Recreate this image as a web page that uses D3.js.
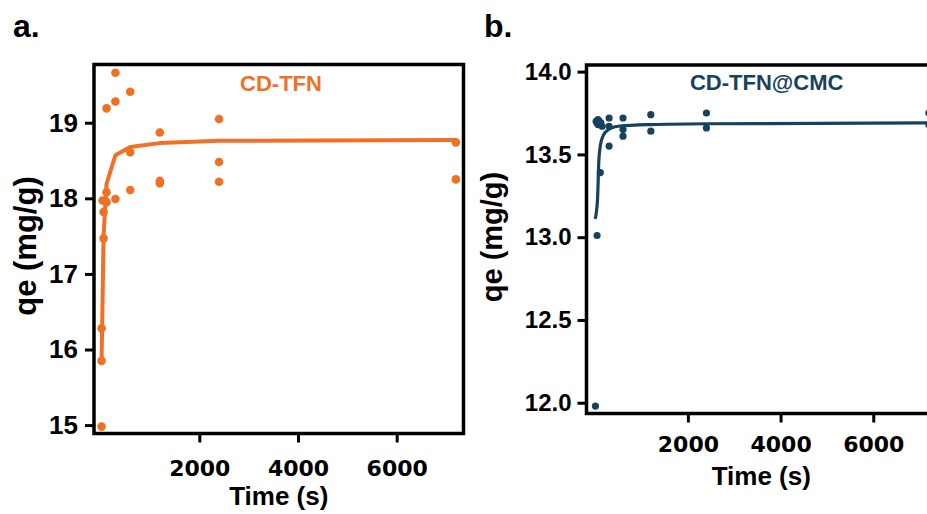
<!DOCTYPE html>
<html>
<head>
<meta charset="utf-8">
<script src="https://cdn.jsdelivr.net/npm/d3@7"></script>
<style>
  html, body { margin: 0; padding: 0; background: #fff; }
  svg { display: block; }
  text { font-family: "Liberation Sans", Arial, sans-serif; font-weight: bold; }
</style>
</head>
<body>
<svg id="chart" width="927" height="514"></svg>
<script>
// ---------- Data ----------
// Panel a: CD-TFN
const aTimes  = [20, 20, 20, 40, 60, 60, 120, 120, 120, 300, 300, 300, 600, 600, 600, 1200, 1200, 1200, 2400, 2400, 2400, 7200, 7200];
const aValues = [14.98, 15.85, 16.28, 17.97, 17.47, 17.82, 17.95, 18.08, 19.19, 17.99, 19.28, 19.66, 18.11, 18.61, 19.41, 18.20, 18.23, 18.87, 18.22, 18.48, 19.05, 18.25, 18.74];
const aFitTimes  = [20, 60, 120, 300, 600, 1200, 2400, 7200];
const aFitValues = [15.85, 17.50, 18.19, 18.57, 18.68, 18.73, 18.76, 18.77];
const aYTicks = [15, 16, 17, 18, 19];

// Panel b: CD-TFN@CMC
const bTimes  = [5, 40, 110, 20, 40, 60, 60, 90, 120, 150, 300, 300, 300, 600, 600, 600, 1200, 1200, 2400, 2400, 7200, 7200];
const bValues = [11.98, 13.01, 13.39, 13.70, 13.69, 13.71, 13.68, 13.70, 13.69, 13.67, 13.72, 13.67, 13.55, 13.72, 13.65, 13.61, 13.74, 13.64, 13.75, 13.66, 13.75, 13.68];
const bFitTimes  = [0, 50, 80, 130, 240, 500, 1200, 2400, 7200];
const bFitValues = [13.11, 13.23, 13.47, 13.58, 13.64, 13.67, 13.68, 13.685, 13.69];
const bYTicks = [12.0, 12.5, 13.0, 13.5, 14.0];

const xTicks = [2000, 4000, 6000];
const panelLetters = ["a.", "b."];
const panelTitles = ["CD-TFN", "CD-TFN@CMC"];
const xTitle = "Time (s)";
const yTitle = "qe (mg/g)";

// ---------- Drawing ----------
const svg = d3.select("#chart");

function drawPanel(cfg) {
  const g = svg.append("g");
  const x = d3.scaleLinear().domain(cfg.xDomain).range([cfg.left, cfg.right]);
  const y = d3.scaleLinear().domain(cfg.yDomain).range([cfg.bottom, cfg.top]);

  // fit line
  g.append("path")
    .datum(cfg.fitT.map((t, i) => [t, cfg.fitV[i]]))
    .attr("fill", "none")
    .attr("stroke", cfg.color)
    .attr("stroke-width", cfg.lineW)
    .attr("stroke-linejoin", "round")
    .attr("d", d3.line().x(d => x(d[0])).y(d => y(d[1])).curve(cfg.curve));

  // points
  g.selectAll("circle.pt")
    .data(cfg.t.map((t, i) => [t, cfg.v[i]]))
    .join("circle")
    .attr("class", "pt")
    .attr("cx", d => x(d[0]))
    .attr("cy", d => y(d[1]))
    .attr("r", cfg.r)
    .attr("fill", cfg.color);

  // frame
  g.append("rect")
    .attr("x", cfg.left).attr("y", cfg.top)
    .attr("width", cfg.right - cfg.left).attr("height", cfg.bottom - cfg.top)
    .attr("fill", "none").attr("stroke", "#000").attr("stroke-width", 3.5);

  // y axis
  const ya = g.append("g").attr("transform", `translate(${cfg.left},0)`)
    .call(d3.axisLeft(y).tickValues(cfg.yTicks).tickSize(9).tickPadding(cfg.yPad)
      .tickFormat(cfg.yFmt));
  ya.select(".domain").remove();
  ya.selectAll(".tick line").attr("stroke", "#000").attr("stroke-width", 3);
  ya.selectAll(".tick text").attr("fill", "#000")
    .style("font-size", cfg.yTickSize + "px")
    .style("font-family", '"Liberation Sans", Arial, sans-serif').style("font-weight", "bold");

  // x axis
  const xa = g.append("g").attr("transform", `translate(0,${cfg.bottom})`)
    .call(d3.axisBottom(x).tickValues(xTicks).tickSize(9).tickPadding(cfg.xPad)
      .tickFormat(d3.format("d")));
  xa.select(".domain").remove();
  xa.selectAll(".tick line").attr("stroke", "#000").attr("stroke-width", 3);
  xa.selectAll(".tick text").attr("fill", "#000")
    .style("font-size", "22px")
    .style("font-family", '"DejaVu Sans", sans-serif').style("font-weight", "bold");

  // x title
  g.append("text")
    .attr("x", (cfg.left + cfg.right) / 2).attr("y", cfg.xTitleY)
    .attr("text-anchor", "middle").style("font-size", cfg.xTitleSize + "px")
    .attr("fill", "#000").text(xTitle);

  // y title
  g.append("text")
    .attr("transform", `translate(${cfg.yTitleX},${cfg.yTitleCY}) rotate(-90)`)
    .attr("text-anchor", "middle").style("font-size", cfg.yTitleSize + "px")
    .attr("fill", "#000").text(yTitle);

  // inner title
  g.append("text")
    .attr("x", cfg.titleX).attr("y", cfg.titleY)
    .attr("text-anchor", "middle").style("font-size", "22px")
    .attr("fill", cfg.color).text(cfg.title);

  // panel letter
  g.append("text")
    .attr("x", cfg.letterX).attr("y", 37)
    .style("font-size", "32px").attr("fill", "#000").text(cfg.letter);
}

drawPanel({
  t: aTimes, v: aValues, fitT: aFitTimes, fitV: aFitValues,
  color: "#F07025", lineW: 4, r: 4.3, curve: d3.curveLinear,
  left: 94, right: 463.5, top: 64.5, bottom: 433.5,
  xDomain: [-134, 7354], yDomain: [14.889, 19.77],
  yTicks: aYTicks, yFmt: d3.format("d"), yTickSize: 26, yPad: 7,
  xPad: 18,
  xTitleY: 505, xTitleSize: 26,
  yTitleX: 36, yTitleCY: 246, yTitleSize: 31,
  title: panelTitles[0], titleX: 281, titleY: 90.5,
  letter: panelLetters[0], letterX: 13
});

drawPanel({
  t: bTimes, v: bValues, fitT: bFitTimes, fitV: bFitValues,
  color: "#17425E", lineW: 3.2, r: 3.6, curve: d3.curveMonotoneX,
  left: 586.5, right: 936, top: 65, bottom: 413.5,
  xDomain: [-188, 7354], yDomain: [11.935, 14.04],
  yTicks: bYTicks, yFmt: d3.format(".1f"), yTickSize: 24, yPad: 6,
  xPad: 14,
  xTitleY: 485, xTitleSize: 26,
  yTitleX: 502, yTitleCY: 237, yTitleSize: 29,
  title: panelTitles[1], titleX: 766.7, titleY: 90,
  letter: panelLetters[1], letterX: 484
});
</script>
</body>
</html>
